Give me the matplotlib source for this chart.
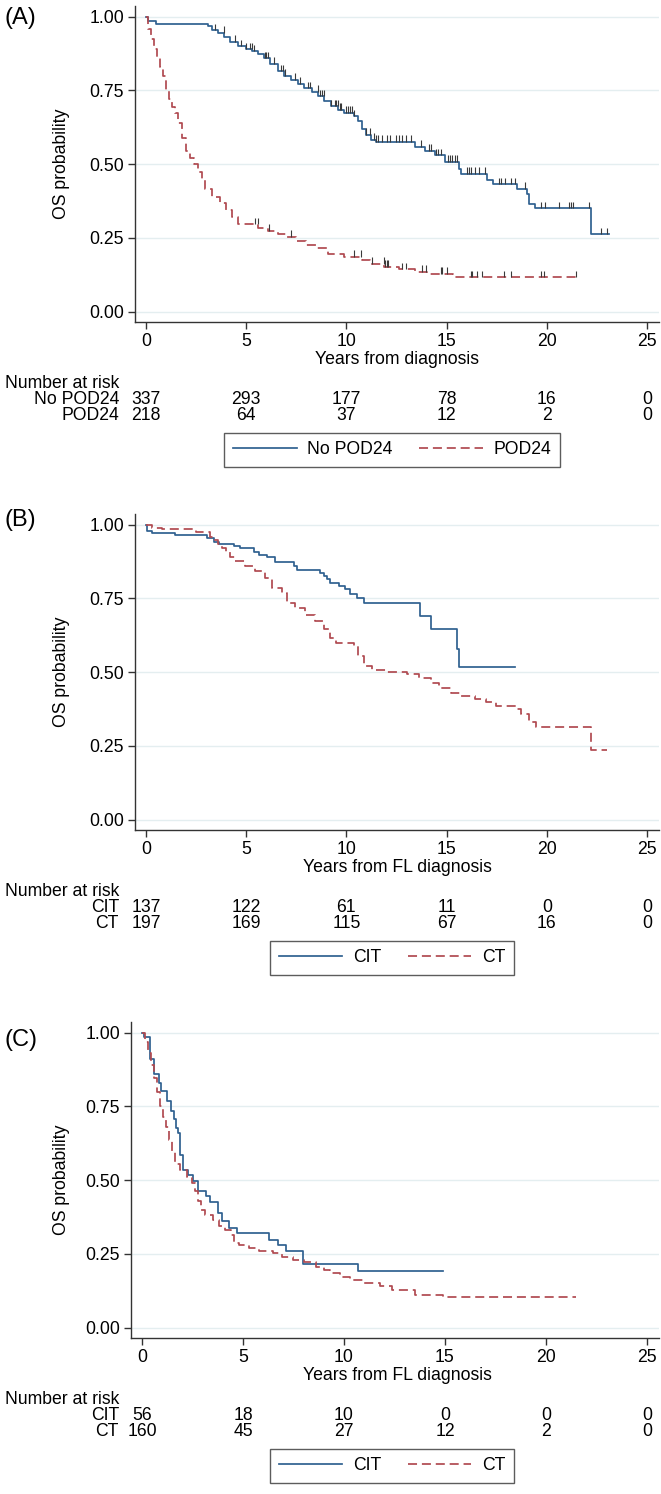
import numpy as np
import matplotlib
matplotlib.use('Agg')
import matplotlib.pyplot as plt
from matplotlib.lines import Line2D
from matplotlib.transforms import blended_transform_factory

plt.rcParams['font.family'] = ['Liberation Sans', 'DejaVu Sans']
plt.rcParams['font.size'] = 12.7
plt.rcParams['lines.scale_dashes'] = False

BLUE = '#2f6090'
RED = '#b04a50'
GRID = '#e4eef0'
AXC = '#333333'

# ---------------- data ----------------
years = [0, 5, 10, 15, 20, 25]

# (A) POD24
a_labels = ['No POD24', 'POD24']
a_no_t = [0, 0.1, 0.5, 3.1, 3.3, 3.6, 3.9, 4.2, 4.6, 5.0, 5.3, 5.6, 5.9, 6.2, 6.6, 6.9,
          7.25, 7.6, 7.9, 8.3, 8.6, 8.9, 9.25, 9.6, 9.9, 10.4, 10.6, 10.8, 11.0, 11.25,
          11.5, 13.4, 13.9, 14.4, 14.9, 15.6, 15.7, 17.0, 17.3, 18.5, 19.0, 19.1, 19.4, 22.2]
a_no_s = [1.0, 0.985, 0.977, 0.97, 0.955, 0.945, 0.93, 0.915, 0.90, 0.89, 0.883, 0.875, 0.86, 0.84, 0.815, 0.80,
          0.787, 0.772, 0.758, 0.745, 0.73, 0.715, 0.697, 0.685, 0.674, 0.663, 0.645, 0.62, 0.60, 0.583,
          0.576, 0.559, 0.545, 0.531, 0.508, 0.485, 0.468, 0.446, 0.432, 0.417, 0.40, 0.366, 0.35, 0.262]
a_no_end = 23.1
a_no_cens = [3.42, 3.88, 4.45, 4.75, 5.0, 5.17, 5.28, 5.38, 5.92, 6.0, 6.08, 6.38, 6.75, 6.83, 6.95,
             7.42, 7.67, 8.08, 8.17, 8.58, 8.67, 8.78, 8.88, 9.25, 9.42, 9.5, 9.58, 9.67, 9.75,
             10.0, 10.1, 10.2, 10.3, 10.4, 11.0, 11.2, 11.4, 11.5, 11.6, 11.8, 12.03, 12.2, 12.5,
             12.6, 12.75, 12.98, 13.22, 13.7, 14.1, 14.2, 14.45, 14.55, 14.7, 15.05, 15.17, 15.27,
             15.4, 15.5, 16.0, 16.1, 16.2, 16.4, 16.6, 16.9, 17.6, 17.7, 17.9, 18.2, 18.4, 18.9,
             19.7, 19.9, 20.6, 21.1, 21.2, 21.3, 22.1, 22.7, 23.0]
a_pod_t = [0, 0.1, 0.25, 0.4, 0.55, 0.7, 0.85, 1.0, 1.15, 1.3, 1.45, 1.6, 1.8, 2.0, 2.2, 2.4, 2.6,
           2.8, 2.95, 3.3, 3.7, 4.0, 4.3, 4.6, 5.6, 6.1, 6.6, 7.0, 7.5, 8.0, 8.5, 9.1, 9.9, 10.8,
           11.2, 11.9, 12.6, 13.4, 14.0, 15.3]
a_pod_s = [1.0, 0.96, 0.925, 0.89, 0.86, 0.83, 0.80, 0.75, 0.72, 0.695, 0.675, 0.64, 0.59, 0.545, 0.52, 0.50, 0.475,
           0.445, 0.415, 0.39, 0.37, 0.345, 0.32, 0.297, 0.283, 0.275, 0.262, 0.254, 0.24, 0.226, 0.215, 0.197, 0.186, 0.175,
           0.163, 0.152, 0.144, 0.135, 0.128, 0.117]
a_pod_end = 21.5
a_pod_cens = [5.42, 5.58, 6.12, 7.25, 10.4, 10.75, 11.3, 11.87, 11.95, 12.03, 12.1, 12.78, 12.95,
              13.78, 13.95, 14.7, 14.78, 15.03, 16.2, 16.28, 16.53, 16.78, 17.87, 18.2, 19.7, 19.87, 21.45]
a_risk = [[337, 293, 177, 78, 16, 0], [218, 64, 37, 12, 2, 0]]

# (B) CIT vs CT, from FL diagnosis
b_labels = ['CIT', 'CT']
b_cit_t = [0, 0.05, 0.3, 1.45, 3.03, 3.37, 3.62, 4.37, 4.7, 5.37, 5.62, 6.03, 6.45, 7.37, 7.53,
           8.7, 8.87, 9.05, 9.2, 9.62, 9.95, 10.2, 10.53, 10.87, 13.66, 14.2, 15.53, 15.6]
b_cit_s = [1.0, 0.98, 0.973, 0.966, 0.955, 0.943, 0.935, 0.927, 0.92, 0.906, 0.897, 0.889, 0.874, 0.86, 0.845,
           0.837, 0.826, 0.815, 0.803, 0.792, 0.781, 0.766, 0.75, 0.733, 0.69, 0.646, 0.578, 0.516]
b_cit_end = 18.4
b_ct_t = [0, 0.3, 0.8, 2.5, 3.2, 3.4, 3.6, 3.8, 4.0, 4.2, 4.45, 4.95, 5.45, 5.95, 6.3, 6.8, 7.03,
          7.45, 7.95, 8.45, 8.87, 9.2, 9.5, 10.37, 10.6, 10.87, 11.3, 12.0, 13.0, 13.6, 14.2, 14.6,
          15.2, 15.7, 16.4, 16.95, 17.45, 18.45, 18.7, 19.1, 19.45, 22.2]
b_ct_s = [1.0, 0.99, 0.985, 0.975, 0.96, 0.948, 0.935, 0.92, 0.906, 0.892, 0.878, 0.86, 0.844, 0.82, 0.786, 0.769, 0.735,
          0.718, 0.695, 0.673, 0.645, 0.617, 0.60, 0.589, 0.555, 0.521, 0.508, 0.50, 0.493, 0.482, 0.465, 0.448,
          0.43, 0.42, 0.41, 0.398, 0.386, 0.375, 0.358, 0.33, 0.313, 0.235]
b_ct_end = 23.0
b_risk = [[137, 122, 61, 11, 0, 0], [197, 169, 115, 67, 16, 0]]

# (C) CIT vs CT in POD24 patients
c_labels = ['CIT', 'CT']
c_cit_t = [0, 0.1, 0.4, 0.61, 0.83, 0.94, 1.25, 1.44, 1.56, 1.66, 1.77, 1.9, 2.02, 2.27, 2.52,
           2.76, 3.18, 3.34, 3.76, 3.98, 4.3, 4.7, 6.3, 6.72, 7.13, 7.96, 10.7]
c_cit_s = [1.0, 0.985, 0.91, 0.859, 0.831, 0.803, 0.769, 0.735, 0.706, 0.678, 0.661, 0.587, 0.536, 0.519, 0.497,
           0.463, 0.446, 0.426, 0.389, 0.36, 0.338, 0.321, 0.298, 0.281, 0.259, 0.217, 0.193]
c_cit_end = 14.9
c_ct_t = [0, 0.15, 0.3, 0.45, 0.6, 0.75, 0.9, 1.05, 1.2, 1.35, 1.5, 1.65, 1.9, 2.2, 2.45, 2.6, 2.75,
          2.9, 3.1, 3.5, 3.8, 4.1, 4.4, 4.55, 4.8, 5.3, 5.8, 6.5, 6.95, 7.45, 8.0, 8.6, 9.0, 9.3,
          9.8, 10.3, 11.0, 11.8, 12.4, 13.5, 14.9]
c_ct_s = [1.0, 0.97, 0.93, 0.89, 0.845, 0.80, 0.752, 0.715, 0.68, 0.635, 0.60, 0.555, 0.535, 0.51, 0.49, 0.465, 0.43,
          0.40, 0.383, 0.365, 0.345, 0.33, 0.315, 0.287, 0.281, 0.27, 0.259, 0.253, 0.241, 0.23, 0.221, 0.207, 0.195, 0.185,
          0.172, 0.163, 0.152, 0.14, 0.128, 0.112, 0.104]
c_ct_end = 21.5
c_risk = [[56, 18, 10, 0, 0, 0], [160, 45, 27, 12, 2, 0]]

# ---------------- figure ----------------
W, H = 661, 1494
fig = plt.figure(figsize=(W / 100, H / 100), dpi=100)


def fy(px):
    return 1 - px / H


def surv_at(t, s, x):
    idx = np.searchsorted(t, x, side='right') - 1
    return np.asarray(s)[idx]


def panel(tag, tag_y, left_px, bottom_px, xlabel, labels, curves, risk):
    right_px = 659
    h_px = 315.6
    ax = fig.add_axes([left_px / W, fy(bottom_px), (right_px - left_px) / W, h_px / H])
    ax.set_xlim(-0.55, 25.6)
    ax.set_ylim(-0.035, 1.035)
    for sp in ['top', 'right']:
        ax.spines[sp].set_visible(False)
    for sp in ['left', 'bottom']:
        ax.spines[sp].set_color(AXC)
        ax.spines[sp].set_linewidth(1.0)
    ax.set_yticks([0, 0.25, 0.5, 0.75, 1.0])
    ax.set_yticklabels(['0.00', '0.25', '0.50', '0.75', '1.00'])
    ax.set_xticks(years)
    ax.tick_params(axis='both', length=5, width=1.0, color=AXC, labelsize=12.7, pad=3)
    ax.yaxis.grid(True, color=GRID, lw=1.0)
    ax.set_axisbelow(True)

    ax.set_ylabel('OS probability', fontsize=12.7)
    ax.yaxis.set_label_coords((70 - left_px) / (right_px - left_px), 0.5)

    for t, s, end, color, dashed, cens in curves:
        xs = list(t) + [end]
        ys = list(s) + [s[-1]]
        ln, = ax.plot(xs, ys, drawstyle='steps-post', color=color, lw=1.25)
        if dashed:
            ln.set_dashes((6.5, 3.5))
        if cens:
            cy = surv_at(t, s, cens)
            ax.vlines(cens, cy, cy + 0.022, color='#3a3a3a', lw=0.8)

    fig.text(5 / W, fy(tag_y), tag, fontsize=17, va='center', ha='left')
    fig.text(397 / W, fy(bottom_px + 37), xlabel, ha='center', va='center')
    fig.text(5 / W, fy(bottom_px + 61), 'Number at risk', ha='left', va='center')
    tr = blended_transform_factory(ax.transData, fig.transFigure)
    for i, (lab, row) in enumerate(zip(labels, risk)):
        yy = fy(bottom_px + 78 + 16 * i)
        fig.text(119 / W, yy, lab, ha='right', va='center')
        for x, n in zip(years, row):
            ax.text(x, yy, str(n), transform=tr, ha='center', va='center')

    handles = []
    for t, s, end, color, dashed, cens in curves:
        h = Line2D([], [], color=color, lw=1.25)
        if dashed:
            h.set_dashes((6.5, 3.5))
        handles.append(h)
    leg = fig.legend(handles, labels, loc='center', bbox_to_anchor=(392 / W, fy(bottom_px + 128)),
                     ncol=2, frameon=True, fancybox=False, edgecolor=AXC, fontsize=12.7,
                     handlelength=3.6, handletextpad=0.6, columnspacing=1.5, borderpad=0.5)
    leg.get_frame().set_linewidth(1.0)
    return ax


panel('(A)', 18, 135, 322, 'Years from diagnosis', a_labels,
      [(a_no_t, a_no_s, a_no_end, BLUE, False, a_no_cens),
       (a_pod_t, a_pod_s, a_pod_end, RED, True, a_pod_cens)], a_risk)
panel('(B)', 520, 135, 830, 'Years from FL diagnosis', b_labels,
      [(b_cit_t, b_cit_s, b_cit_end, BLUE, False, None),
       (b_ct_t, b_ct_s, b_ct_end, RED, True, None)], b_risk)
panel('(C)', 1040, 131, 1338, 'Years from FL diagnosis', c_labels,
      [(c_cit_t, c_cit_s, c_cit_end, BLUE, False, None),
       (c_ct_t, c_ct_s, c_ct_end, RED, True, None)], c_risk)

fig.savefig('out.png', dpi=100, facecolor='white')
